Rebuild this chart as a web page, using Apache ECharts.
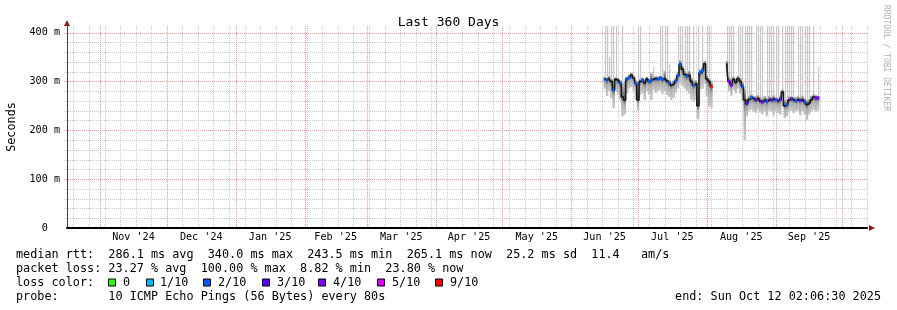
<!DOCTYPE html>
<html>
<head>
<meta charset="utf-8">
<title>Last 360 Days</title>
<script src="https://cdn.jsdelivr.net/npm/echarts@6.0.0/dist/echarts.min.js"></script>
<style>
html,body{margin:0;padding:0;background:#fff;}
#chart{width:897px;height:310px;}
</style>
</head>
<body>
<div id="chart"></div>
<script>
// ---------------- data ----------------
const TITLE = 'Last 360 Days';
const Y_NAME = 'Seconds';
const RANGE_START = '2024-10-17T02:06:30Z';
const RANGE_END = '2025-10-12T02:06:30Z';
const Y_MAX = 413.3;
const yLabelValues = [0, 100, 200, 300, 400];
const yLabelTexts = ['0  ', '100 m', '200 m', '300 m', '400 m'];
const monthStarts = ['2024-11-01','2024-12-01','2025-01-01','2025-02-01','2025-03-01','2025-04-01',
  '2025-05-01','2025-06-01','2025-07-01','2025-08-01','2025-09-01','2025-10-01'];
const monthLabels = ["Nov '24","Dec '24","Jan '25","Feb '25","Mar '25","Apr '25",
  "May '25","Jun '25","Jul '25","Aug '25","Sep '25"];
const firstWeekLine = '2024-10-20';

// segment 1: daily from 2025-06-16
const seg1Start = '2025-06-16';
const seg1Median = [305,303,306,300,282,304,302,297,268,262,305,308,313,307,296,262,300,303,297,305,
  300,303,305,306,305,307,304,306,301,297,292,296,301,312,335,325,314,311,313,300,
  292,296,250,318,322,336,305,300,290];
const seg1Low = [285,270,280,265,245,280,272,262,228,232,275,285,288,282,262,240,272,276,262,280,
  272,262,282,276,280,282,274,280,272,268,262,266,276,285,295,290,285,280,275,262,
  258,262,222,282,285,295,268,248,245];
const seg1High = [310,308,311,306,300,309,307,303,298,300,310,313,318,312,303,300,305,308,303,310,
  306,318,310,311,310,312,309,322,307,303,298,302,308,320,344,332,322,318,322,308,
  300,303,300,325,330,342,312,306,300];
const seg1Max = [450,450,350,450,450,450,null,null,450,null,null,null,null,null,null,450,450,null,null,null,
  null,null,330,null,null,450,450,450,450,335,null,null,null,450,450,450,450,450,450,null,
  450,null,450,null,450,null,450,450,null];
const seg1Loss = [18,19,26,17,18,24,19,19,33,17,18,19,24,18,19,27,18,17,25,19,
  18,19,26,17,19,18,20,25,19,18,27,18,19,17,16,24,18,19,26,19,
  18,28,17,19,18,25,19,62,65];

// segment 2: daily from 2025-08-10
const seg2Start = '2025-08-10';
const seg2Median = [336,300,292,304,298,306,300,290,262,255,263,267,264,262,266,260,258,262,259,263,
  262,264,262,260,263,278,250,252,262,264,262,260,263,261,263,258,253,256,262,268,266,266];
const seg2Low = [310,280,270,282,275,285,275,262,180,228,240,242,238,235,242,236,232,238,228,240,
  238,230,238,235,232,248,225,228,238,240,235,238,240,230,238,232,220,232,238,242,238,240];
const seg2High = [342,310,300,310,306,312,308,300,285,266,270,274,271,270,272,268,266,270,267,270,
  269,272,268,267,270,284,262,263,270,270,269,268,270,268,270,266,262,264,270,274,272,271];
const seg2Max = [450,450,450,450,null,450,450,450,450,450,450,450,null,450,450,450,450,null,450,450,
  450,450,450,450,null,450,450,450,450,450,450,null,450,450,450,450,450,450,null,450,null,330];
const seg2Loss = [33,31,34,19,27,35,18,19,26,27,19,18,28,27,19,25,26,18,19,27,
  26,18,19,27,28,33,19,18,26,27,19,18,27,26,19,18,27,18,26,34,35,33];

// legend texts
const lossClassLabels = ['0','1/10','2/10','3/10','4/10','5/10','9/10'];
const lossClassColors = ['#26ff00','#00b8ff','#0059ff','#5e00ff','#7e00ff','#dd00ff','#ff0000'];
const statsLine1 = 'median rtt:  286.1 ms avg  340.0 ms max  243.5 ms min  265.1 ms now  25.2 ms sd  11.4   am/s';
const statsLine2 = 'packet loss: 23.27 % avg  100.00 % max  8.82 % min  23.80 % now';
const lossLineTitle = 'loss color:';
const probeLine = 'probe:       10 ICMP Echo Pings (56 Bytes) every 80s';
const endText = 'end: Sun Oct 12 02:06:30 2025';
const watermark = 'RRDTOOL / TOBI OETIKER';

// ---------------- layout / style ----------------
const MONO = '"DejaVu Sans Mono", "Liberation Mono", monospace';
const LEG_FS = 11.8, AXIS_FS = 10.15;
const lossSquareX = [108,146,203,262,318,377,435];
const lossTextX = [123,160,218,277,333,392,450];
const legendY = [254.5, 268.5, 282.5, 296.5];

// ---------------- helpers ----------------
const DAY = 86400000;
const T0 = Date.parse(RANGE_START);
const SPAN = (Date.parse(RANGE_END) - T0) / DAY;
const dayOf = s => (Date.parse(s + 'T00:00:00Z') - T0) / DAY;
const lossClass = p => p <= 0 ? 0 : p <= 10 ? 1 : p <= 20 ? 2 : p <= 30 ? 3 : p <= 40 ? 4 : p <= 50 ? 5 : 6;

function buildSegment(start, med, lo, hi, mx, loss) {
  const d0 = dayOf(start);
  const smoke = [], line = [], dots = [];
  for (let i = 0; i < med.length; i++) {
    const d = d0 + i;
    smoke.push([d, lo[i], hi[i], mx[i] == null ? -1 : mx[i], med[i]]);
    line.push([d, med[i]]);
    const c = lossClass(loss[i]);
    if (i > 0 && lossClass(loss[i - 1]) === c) dots.push([d, med[i], c]);
  }
  return {smoke, line, dots};
}
const s1 = buildSegment(seg1Start, seg1Median, seg1Low, seg1High, seg1Max, seg1Loss);
const s2 = buildSegment(seg2Start, seg2Median, seg2Low, seg2High, seg2Max, seg2Loss);

// grid line items: [x, y, kind] kind 0 h-minor, 1 h-major, 2 v-minor, 3 v-major
const gridItems = [];
for (let v = 20; v <= 400; v += 20) gridItems.push([0, v, v % 100 === 0 ? 1 : 0]);
for (let d = dayOf(firstWeekLine); d < SPAN; d += 7) gridItems.push([d, 0, 2]);
monthStarts.forEach(s => { const d = dayOf(s); if (d < SPAN) gridItems.push([d, 0, 3]); });
const monthLabelDays = monthLabels.map((_, i) => (dayOf(monthStarts[i]) + dayOf(monthStarts[i + 1])) / 2);

const GRID_GRAY = '#cbcbcb', GRID_RED = '#f29494';
function renderGrid(params, api) {
  const cs = params.coordSys;
  const kind = api.value(2);
  if (kind < 2) {
    const y = Math.round(api.coord([0, api.value(1)])[1]) + 0.5;
    return {type: 'line', z2: kind, shape: {x1: cs.x - 3, y1: y, x2: cs.x + cs.width, y2: y},
      style: {stroke: kind ? GRID_RED : GRID_GRAY, lineWidth: 1, lineDash: [1, 1]}};
  }
  const x = Math.round(api.coord([api.value(0), 0])[0]) + 0.5;
  return {type: 'line', z2: kind, shape: {x1: x, y1: cs.y, x2: x, y2: cs.y + cs.height},
    style: {stroke: kind === 3 ? GRID_RED : GRID_GRAY, lineWidth: 1, lineDash: [1, 1]}};
}

function renderSmoke(params, api) {
  const d = api.value(0), lo = api.value(1), hi = api.value(2), mx = api.value(3), md = api.value(4);
  const w = api.size([1, 0])[0];
  const top = params.coordSys.y;
  const pLo = api.coord([d, lo]), pHi = api.coord([d, hi]), pMd = api.coord([d, md]);
  const children = [];
  if (mx > hi) {
    const yTop = Math.max(top, api.coord([d, Math.min(mx, Y_MAX)])[1]);
    children.push({type: 'rect', shape: {x: Math.round(pLo[0]), y: yTop, width: 1.2, height: pHi[1] - yTop},
      style: {fill: '#c8c8c8'}});
  }
  const h = Math.max(1, pLo[1] - pHi[1]);
  const f = Math.min(0.97, Math.max(0.03, (pMd[1] - pHi[1]) / h));
  children.push({type: 'rect', shape: {x: pLo[0] - w / 2, y: pHi[1], width: w + 0.3, height: h},
    style: {fill: {type: 'linear', x: 0, y: 0, x2: 0, y2: 1, colorStops: [
      {offset: 0, color: '#c4c4c4'}, {offset: f, color: '#555555'},
      {offset: Math.min(1, f + (1 - f) * 0.3), color: '#acacac'}, {offset: 1, color: '#cacaca'}]}}});
  return {type: 'group', children};
}

function renderDot(params, api) {
  const p = api.coord([api.value(0), api.value(1)]);
  const w = api.size([1, 0])[0];
  return {type: 'rect', shape: {x: p[0] - w / 2, y: p[1] - 1.5, width: w + 0.4, height: 3},
    style: {fill: lossClassColors[api.value(2)]}};
}

// ---------------- graphics (legend, watermark, arrows) ----------------
const txt = (x, y, text, extra) => Object.assign({type: 'text', x, y,
  style: Object.assign({text, font: LEG_FS + 'px ' + MONO, fill: '#000', verticalAlign: 'middle'}, extra || {})});
const graphics = [];
graphics.push(txt(16, legendY[0], statsLine1));
graphics.push(txt(16, legendY[1], statsLine2));
graphics.push(txt(16, legendY[2], lossLineTitle));
lossClassLabels.forEach((t, i) => {
  graphics.push({type: 'rect', shape: {x: lossSquareX[i] + 0.5, y: legendY[2] - 3.5, width: 7, height: 7},
    style: {fill: lossClassColors[i], stroke: '#000', lineWidth: 1}});
  graphics.push(txt(lossTextX[i], legendY[2], t));
});
graphics.push(txt(16, legendY[3], probeLine));
graphics.push(txt(881, legendY[3], endText, {align: 'right'}));
graphics.push({type: 'text', x: 886, y: 5, rotation: -Math.PI / 2,
  style: {text: watermark, font: '8px ' + MONO, fill: '#b0b0b0', align: 'left', verticalAlign: 'middle'}});
graphics.push({type: 'polygon', shape: {points: [[67, 20], [64, 26], [70, 26]]}, style: {fill: '#8b1c1c'}});
graphics.push({type: 'polygon', shape: {points: [[875, 228], [869, 225], [869, 231]]}, style: {fill: '#8b1c1c'}});

// ---------------- chart ----------------
const chart = echarts.init(document.getElementById('chart'), null, {renderer: 'canvas'});
chart.setOption({
  animation: false,
  backgroundColor: '#fff',
  title: {text: TITLE, left: 'center', top: 11,
    textStyle: {fontFamily: MONO, fontSize: 13, fontWeight: 'normal', color: '#000'}},
  grid: {left: 67, top: 26, width: 800, height: 202, containLabel: false, outerBoundsMode: 'none'},
  xAxis: {type: 'value', min: 0, max: SPAN, z: 10,
    axisLine: {show: true, onZero: false, lineStyle: {color: '#000', width: 2}},
    axisTick: {show: false}, splitLine: {show: false},
    axisLabel: {customValues: monthLabelDays,
      formatter: v => { const k = monthLabelDays.findIndex(m => Math.abs(m - v) < 1e-6); return k >= 0 ? monthLabels[k] : ''; },
      fontFamily: MONO, fontSize: AXIS_FS, color: '#000', margin: 4}},
  yAxis: {type: 'value', min: 0, max: Y_MAX, z: 10,
    name: Y_NAME, nameLocation: 'middle', nameRotate: 90, nameGap: 49,
    nameTextStyle: {fontFamily: MONO, fontSize: LEG_FS, color: '#000'},
    axisLine: {show: true, lineStyle: {color: '#404040', width: 1}},
    axisTick: {show: false}, splitLine: {show: false},
    axisLabel: {customValues: yLabelValues, formatter: v => yLabelTexts[yLabelValues.indexOf(v)] || '',
      fontFamily: MONO, fontSize: AXIS_FS, color: '#000', margin: 7}},
  graphic: graphics,
  series: [
    {type: 'custom', name: 'grid', z: 1, silent: true, data: gridItems, renderItem: renderGrid},
    {type: 'custom', name: 'smoke1', z: 2, silent: true, data: s1.smoke, renderItem: renderSmoke},
    {type: 'custom', name: 'smoke2', z: 2, silent: true, data: s2.smoke, renderItem: renderSmoke},
    {type: 'line', name: 'median1', z: 3, step: 'middle', symbol: 'none', data: s1.line,
      lineStyle: {color: '#1a1a1a', width: 1.6}},
    {type: 'line', name: 'median2', z: 3, step: 'middle', symbol: 'none', data: s2.line,
      lineStyle: {color: '#1a1a1a', width: 1.6}},
    {type: 'custom', name: 'loss1', z: 4, silent: true, data: s1.dots, renderItem: renderDot},
    {type: 'custom', name: 'loss2', z: 4, silent: true, data: s2.dots, renderItem: renderDot}
  ]
});
</script>
</body>
</html>
